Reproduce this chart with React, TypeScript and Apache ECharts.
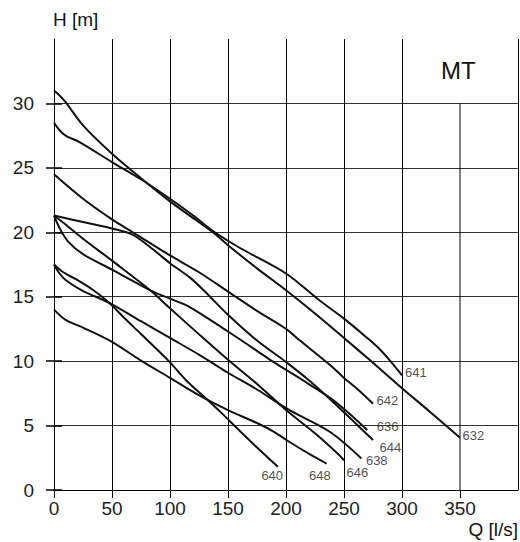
import React, { useEffect, useRef } from "react";
import * as echarts from "echarts";

// Q [l/s] vs H [m] per pump curve
const c632 = [[0,31],[5,30.6],[10,30.1],[25,28.3],[50,26.1],[75,24.2],[100,22.4],[120,21.1],[137,20],[150,19],[175,17.2],[200,15.5],[225,13.7],[250,11.8],[272,10.1],[300,7.9],[325,6],[350,4.05]];
const c641 = [[0,28.5],[5,27.9],[10,27.5],[22,27],[50,25.45],[77,24],[100,22.6],[120,21.3],[137,20.1],[160,18.8],[200,16.8],[229,14.7],[250,13.3],[270,11.8],[280,11],[290,10],[300,8.9]];
const c642 = [[0,24.5],[25,22.6],[50,21],[68,20],[100,18.2],[125,16.9],[150,15.4],[175,13.9],[200,12.5],[212,11.6],[238,9.7],[250,8.7],[262,7.8],[275,6.7]];
const c636 = [[0,21.3],[5,20.3],[12,19.3],[25,18.3],[50,17.1],[83,15.5],[100,14.85],[117,14.2],[150,12.3],[175,10.8],[188,10],[213,8.6],[238,7.15],[255,5.9],[270,4.65]];
const c644 = [[0,21.3],[15,21],[35,20.6],[50,20.3],[68,19.8],[85,18.7],[100,17.6],[117,16.5],[129,15.5],[150,13.6],[175,11.6],[199,10],[220,8.5],[238,7.05],[255,5.6],[275,3.88]];
const c646 = [[0,21.3],[10,20.6],[25,19.5],[50,17.8],[83,15.5],[100,14.1],[126,12],[150,10.1],[178,8],[200,6.2],[225,4.4],[246,2.7],[250,2.3]];
const c638 = [[0,17.5],[4,16.9],[10,16.3],[24,15.5],[48,14.5],[75,13.1],[100,11.8],[126,10.45],[150,9.1],[175,7.8],[203,6.2],[238,4.5],[265,2.45]];
const c640 = [[0,17.5],[8,16.9],[20,16.3],[34,15.5],[48,14.5],[60,13.4],[75,12.1],[99,10],[114,8.5],[131,7.1],[143,6.1],[160,4.6],[175,3.3],[193,1.8]];
const c648 = [[0,14],[10,13.2],[25,12.6],[50,11.5],[74,10.1],[100,8.7],[126,7.3],[150,6.2],[175,5.2],[190,4.5],[200,3.9],[220,2.8],[235,2.05]];

const curveNames = ["632","641","642","636","644","646","638","640","648"];
const curveData = [c632,c641,c642,c636,c644,c646,c638,c640,c648];

const xTicks = [0,50,100,150,200,250,300,350,400];
const yTicks = [0,5,10,15,20,25,30];
const mtBoxX = 350;
const mtBoxTop = 30;

// label placement (pixels, relative to curve end)
const labelOffsets: Record<string, [number, number]> = {
  "632": [2, -2], "641": [2.5, -2.5], "642": [3, -3], "636": [9, -4], "644": [6, 7],
  "646": [2, 12], "638": [4, 2], "640": [-17, 9], "648": [-18, 12],
};

const FONT = "'Liberation Sans', Arial, Helvetica, sans-serif";

export default function App() {
  const ref = useRef<HTMLDivElement>(null);
  useEffect(() => {
    document.body.style.margin = "0";
    const chart = echarts.init(ref.current!, null, { renderer: "svg" });
    const curveSeries = curveData.map((d, i) => ({
      type: "line",
      name: curveNames[i],
      data: d,
      xAxisIndex: 0,
      yAxisIndex: 0,
      showSymbol: false,
      smooth: 0.3,
      lineStyle: { color: "#111", width: 2 },
      silent: true,
      z: 5,
    }));
    const labelSeries = {
      type: "scatter",
      symbolSize: 1,
      itemStyle: { color: "transparent" },
      silent: true,
      z: 6,
      data: curveData.map((d, i) => ({
        value: d[d.length - 1],
        label: {
          show: true,
          position: "right",
          distance: 0,
          offset: labelOffsets[curveNames[i]],
          formatter: curveNames[i],
          fontSize: 13,
          fontFamily: FONT,
          color: "#222",
        },
      })),
    };
    const boxLine = {
      type: "line",
      data: [[mtBoxX, 0], [mtBoxX, mtBoxTop]],
      showSymbol: false,
      silent: true,
      lineStyle: { color: "#000", width: 1 },
      z: 2,
    };
    const xLineColors = xTicks.map((v) => (v === mtBoxX ? "transparent" : "#000"));
    chart.setOption({
      animation: false,
      backgroundColor: "#fff",
      grid: { left: 54, right: 2, top: 39, bottom: 52 },
      xAxis: {
        type: "value",
        min: 0,
        max: 400,
        interval: 50,
        axisLine: { show: true, lineStyle: { color: "#000", width: 1 } },
        axisTick: { show: true, length: 8, lineStyle: { color: "#000" }, customValues: xTicks },
        axisLabel: {
          showMaxLabel: false,
          fontSize: 19,
          fontFamily: FONT,
          color: "#222",
          margin: 9,
        },
        splitLine: { show: true, lineStyle: { color: xLineColors, width: 1 } },
      },
      yAxis: [
        {
          type: "value",
          min: 0,
          max: 35,
          interval: 5,
          axisLine: { show: true, lineStyle: { color: "#000", width: 1 } },
          axisTick: { show: true, length: 8, lineStyle: { color: "#000", width: 1.5 }, customValues: yTicks },
          axisLabel: {
            showMaxLabel: false,
            fontSize: 19,
            fontFamily: FONT,
            color: "#222",
            margin: 20,
          },
          splitLine: { show: true, lineStyle: { color: "#333", width: 1.2 } },
        },
        {
          type: "value",
          min: 0,
          max: 35,
          interval: 5,
          position: "left",
          axisLine: { show: false },
          axisTick: { show: true, inside: true, length: 8, lineStyle: { color: "#000", width: 1.5 }, customValues: yTicks },
          axisLabel: { show: false },
          splitLine: { show: false },
        },
      ],
      graphic: [
        { type: "text", left: 53, top: 10, style: { text: "H [m]", fontSize: 19, fontFamily: FONT, fill: "#111" } },
        { type: "text", right: 2, top: 520, style: { text: "Q [l/s]", fontSize: 19, fontFamily: FONT, fill: "#111" } },
        { type: "text", left: 441, top: 58, style: { text: "MT", fontSize: 24, fontFamily: FONT, fill: "#111" } },
      ],
      series: [boxLine, ...curveSeries, labelSeries],
    });
    return () => chart.dispose();
  }, []);
  return <div ref={ref} style={{ width: 520, height: 542 }} />;
}
